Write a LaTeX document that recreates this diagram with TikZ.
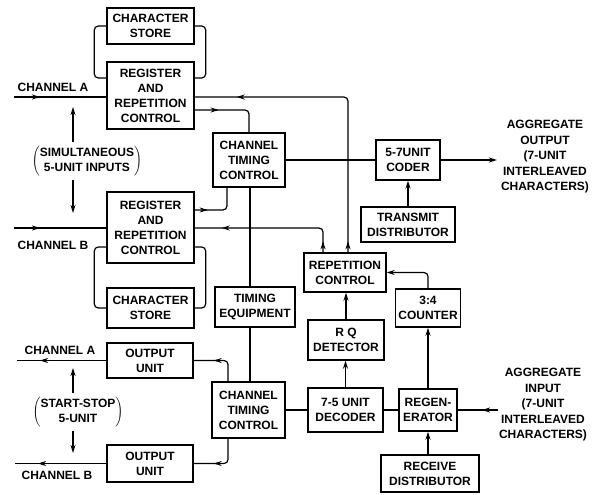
\documentclass[tikz,border=0pt]{standalone}
\usepackage{fontspec}
\setmainfont{Liberation Sans}
\usepackage{tikz}
\usetikzlibrary{arrows.meta, calc, decorations.markings}
\tikzset{
  blk/.style={draw, sharp corners, line width=1.4pt, align=center, inner sep=1pt, font=\bfseries\fontsize{12}{15}\selectfont},
  lbl/.style={align=center, inner sep=0pt, font=\bfseries\fontsize{12}{15.5}\selectfont},
  tip/.tip={Stealth[length=8pt, width=5pt, inset=2.5pt]},
  arr/.style={-tip},
  markat/.style={postaction={decorate, decoration={markings, mark=at position #1 with {\arrow{tip}}}}},
}
\begin{document}
\begin{tikzpicture}[x=1pt, y=-1pt, line width=1.2pt, rounded corners=4pt]
  \useasboundingbox (0,0) rectangle (603,495);
  \node[blk, minimum width=87, minimum height=36] (stoA) at (150.5,26) {CHARACTER\\STORE};
  \node[blk, minimum width=87, minimum height=67] (regA) at (150.5,95.5) {REGISTER\\AND\\REPETITION\\CONTROL};
  \node[blk, minimum width=72, minimum height=54] (ctcA) at (249,160) {CHANNEL\\TIMING\\CONTROL};
  \node[blk, minimum width=64, minimum height=40] (coder) at (408,160) {5-7UNIT\\CODER};
  \node[blk, minimum width=94, minimum height=35] (txdist) at (408,224.5) {TRANSMIT\\DISTRIBUTOR};
  \node[blk, minimum width=87, minimum height=71] (regB) at (150.5,227.5) {REGISTER\\AND\\REPETITION\\CONTROL};
  \node[blk, minimum width=87, minimum height=40] (stoB) at (150.5,308) {CHARACTER\\STORE};
  \node[blk, minimum width=80, minimum height=40] (timeq) at (255,307) {TIMING\\EQUIPMENT};
  \node[blk, minimum width=82, minimum height=39] (rep) at (345,272.5) {REPETITION\\CONTROL};
  \node[blk, minimum width=65, minimum height=38] (cnt) at (428,308) {3:4\\COUNTER};
  \node[blk, minimum width=76, minimum height=40] (rqdet) at (346,340) {R Q\\DETECTOR};
  \node[blk, minimum width=75, minimum height=44] (dec) at (345.5,410) {7-5 UNIT\\DECODER};
  \node[blk, minimum width=58, minimum height=42] (regen) at (428,410) {REGEN-\\ERATOR};
  \node[blk, minimum width=98, minimum height=37] (rxdist) at (430,473.5) {RECEIVE\\DISTRIBUTOR};
  \node[blk, minimum width=86, minimum height=35] (outA) at (150,360.5) {OUTPUT\\UNIT};
  \node[blk, minimum width=86, minimum height=37] (outB) at (150,463.5) {OUTPUT\\UNIT};
  \node[blk, minimum width=73, minimum height=56] (ctcB) at (248.5,410) {CHANNEL\\TIMING\\CONTROL};
  \node[lbl] (chAin) at (53,87) {CHANNEL A};
  \node[lbl] (chBin) at (53,245) {CHANNEL B};
  \node[lbl] (chAout) at (60,350) {CHANNEL A};
  \node[lbl] (chBout) at (57,475) {CHANNEL B};
  \node[lbl, inner sep=3pt] (simin) at (87,161) {$\left(\vcenter{\hbox{\begin{tabular}{@{}c@{}}SIMULTANEOUS\\5-UNIT INPUTS\end{tabular}}}\right)$};
  \node[lbl, inner sep=3pt] (ssout) at (78,412) {$\left(\vcenter{\hbox{\begin{tabular}{@{}c@{}}START-STOP\\5-UNIT\end{tabular}}}\right)$};
  \node[lbl] (aggout) at (545,157) {AGGREGATE\\OUTPUT\\(7-UNIT\\INTERLEAVED\\CHARACTERS)};
  \node[lbl] (aggin) at (543,405) {AGGREGATE\\INPUT\\(7-UNIT\\INTERLEAVED\\CHARACTERS)};
  \coordinate (inA) at (14,97);
  \coordinate (inB) at (14,228);
  \coordinate (exA) at (17,362);
  \coordinate (exB) at (15,461);
  \coordinate (oend) at (497,160);
  \coordinate (iend) at (498,410);
  \coordinate (simup) at (73,107);
  \coordinate (simdn) at (73,213);
  \coordinate (ssup) at (73,368);
  \coordinate (ssdn) at (73,453);
  \draw[markat=26pt] (inA) -- (inA -| regA.west);
  \draw[markat=26pt] (inB) -- (inB -| regB.west);
  \draw[markat=11pt, markat=-42pt] (348,0 |- rep.north) |- (regA.east |- inA);
  \draw[markat=11pt, markat=-27pt] (323,0 |- rep.north) |- (regB.east |- inB);
  \draw[markat=24pt] (regA.east |- 0,110) -| (ctcA.north);
  \draw[markat=13pt] (regB.east |- 0,210) -| (227,0 |- ctcA.south);
  \draw (250,0 |- ctcA.south) -- (250,0 |- timeq.north);
  \draw (250,0 |- timeq.south) -- (250,0 |- ctcB.north);
  \draw (ctcA.east) -- (coder.west);
  \draw[arr] (coder.east) -- (oend);
  \draw[arr] (txdist) -- (coder);
  \draw[arr] (cnt.north) |- (rep.east);
  \draw[arr] (rqdet.north) -- (rqdet.north |- rep.south);
  \draw[arr] (dec.north) -- (dec.north |- rqdet.south);
  \draw (ctcB.east) -- (dec.west);
  \draw (dec.east) -- (regen.west);
  \draw[markat=16pt] (iend) -- (regen.east);
  \draw[arr] (regen) -- (cnt);
  \draw[arr] (regen.south |- rxdist.north) -- (regen.south);
  \draw[markat=-20pt] (228,0 |- ctcB.north) |- (outA.east);
  \draw[markat=-20pt] (228,0 |- ctcB.south) |- (outB.east);
  \draw[markat=-23pt] (outA.west) -- (outA.west -| exA);
  \draw[markat=-23pt] (outB.west) -- (outB.west -| exB);
  \draw (stoA.west) -- ++(-12,0) |- (regA.west |- 0,78);
  \draw (stoA.east) -- ++(11,0) |- (regA.east |- 0,78);
  \draw (regB.west |- 0,247) -- ++(-12,0) |- (stoB.west);
  \draw (regB.east |- 0,247) -- ++(11,0) |- (stoB.east);
  \draw[arr] (simin.north -| simup) -- (simup);
  \draw[arr] (simin.south -| simdn) -- (simdn);
  \draw[arr] (ssout.north -| ssup) -- (ssup);
  \draw[arr] (ssout.south -| ssdn) -- (ssdn);
\end{tikzpicture}
\end{document}
